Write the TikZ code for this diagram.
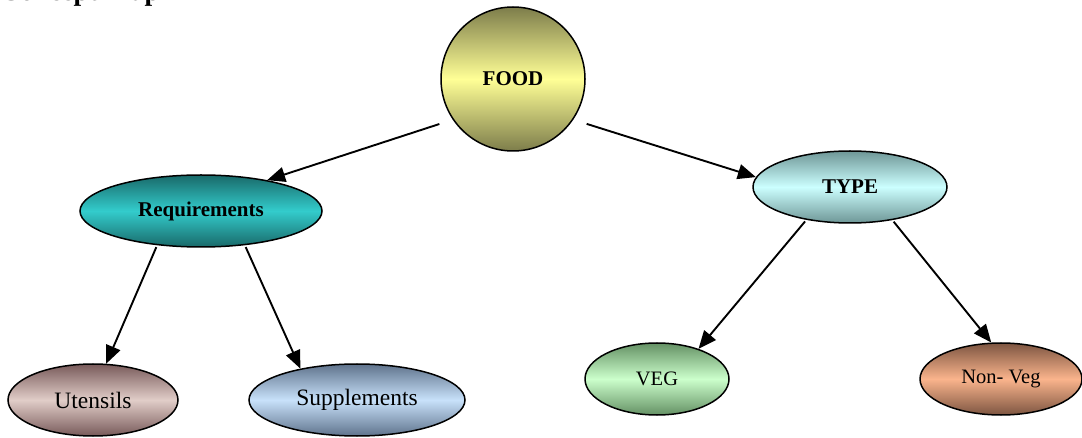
\documentclass[tikz,border=0pt]{standalone}
\usepackage{fontspec}
\setmainfont{Liberation Serif}
\usetikzlibrary{shapes.geometric,arrows.meta}

\definecolor{foodmid}{RGB}{255,255,150}
\definecolor{foodedge}{RGB}{125,125,75}
\definecolor{reqmid}{RGB}{51,204,204}
\definecolor{reqedge}{RGB}{25,105,105}
\definecolor{typemid}{RGB}{204,255,255}
\definecolor{typeedge}{RGB}{110,150,150}
\definecolor{utnmid}{RGB}{225,205,200}
\definecolor{utnedge}{RGB}{120,90,90}
\definecolor{supmid}{RGB}{200,225,250}
\definecolor{supedge}{RGB}{95,115,140}
\definecolor{vegmid}{RGB}{204,255,204}
\definecolor{vegedge}{RGB}{100,145,100}
\definecolor{nvegmid}{RGB}{250,180,140}
\definecolor{nvegedge}{RGB}{125,85,65}

\begin{document}
\begin{tikzpicture}[x=1pt,y=-1pt,
  bubble/.style={ellipse,draw,line width=1.5pt,inner sep=0pt,minimum height=72pt},
  fillgrad/.style 2 args={top color=#2,bottom color=#2,middle color=#1},
  link/.style={line width=1.9pt,-{Triangle[length=18pt,width=15pt]},shorten <=2pt},
  bigtxt/.style={font=\fontsize{23.5}{28}\selectfont},
  smalltxt/.style={font=\fontsize{20.5}{24}\selectfont},
  boldtxt/.style={font=\bfseries\fontsize{21}{25}\selectfont}]
\useasboundingbox (0,0) rectangle (1082,438);
\clip (0,0) rectangle (1082,438);

% Title (cut off at the top)
\node[anchor=base west,inner sep=0pt,font=\bfseries\fontsize{27.5}{32}\selectfont] (title) at (0,0.5) {Concept Map};

% Root
\node[circle,draw,line width=1.5pt,minimum size=144pt,inner sep=0pt,fillgrad={foodmid}{foodedge},boldtxt] (food) at (513,79) {FOOD};

% Second level
\node[bubble,minimum width=242pt,fillgrad={reqmid}{reqedge},boldtxt] (req) at (201,211) {Requirements};
\node[bubble,minimum width=194pt,fillgrad={typemid}{typeedge},boldtxt] (type) at (850,187) {TYPE};

% Leaves
\node[bubble,minimum width=170pt,fillgrad={utnmid}{utnedge},bigtxt] (utn) at (93,400) {Utensils};
\node[bubble,minimum width=216pt,fillgrad={supmid}{supedge},bigtxt] (sup) at (357,400) {Supplements};
\node[bubble,minimum width=144pt,fillgrad={vegmid}{vegedge},smalltxt] (veg) at (657,379) {VEG};
\node[bubble,minimum width=162pt,fillgrad={nvegmid}{nvegedge},smalltxt] (nveg) at (1001,379) {Non- Veg};

% Links
\draw[link,shorten <=14pt] (food.214) -- (req.25);
\draw[link,shorten <=14pt] (food.-34) -- (type.174);
\draw[link] (req.218) -- (utn.70);
\draw[link] (req.-38) -- (sup.151);
\draw[link] (type.217) -- (veg.36);
\draw[link] (type.-38) -- (nveg.105);
\end{tikzpicture}
\end{document}
